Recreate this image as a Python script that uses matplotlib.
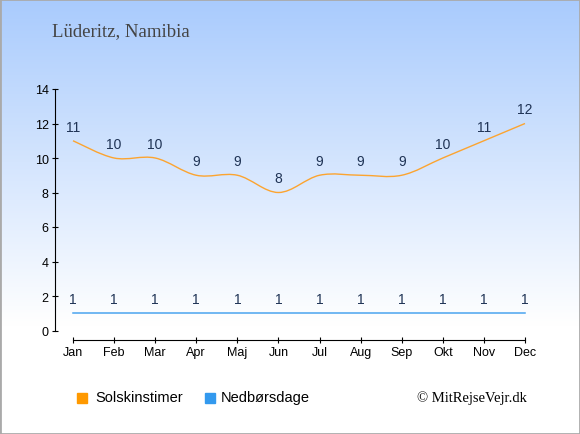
import numpy as np
import matplotlib.pyplot as plt
from matplotlib.path import Path
from matplotlib.patches import PathPatch, Rectangle
from matplotlib.colors import LinearSegmentedColormap

plt.rcParams['font.family'] = ['Liberation Sans', 'DejaVu Sans']

months = ['Jan', 'Feb', 'Mar', 'Apr', 'Maj', 'Jun', 'Jul', 'Aug', 'Sep', 'Okt', 'Nov', 'Dec']
sun_hours = [11, 10, 10, 9, 9, 8, 9, 9, 9, 10, 11, 12]
rain_days = [1, 1, 1, 1, 1, 1, 1, 1, 1, 1, 1, 1]

sun_color = '#fca430'
rain_color = '#4aa3ef'
label_color = '#1f3355'


def smooth_path(xs, ys, t=0.17):
    # bezier segments through the points (catmull-rom style)
    verts = [(xs[0], ys[0])]
    codes = [Path.MOVETO]
    n = len(xs)
    for i in range(n - 1):
        x0, y0 = xs[max(i - 1, 0)], ys[max(i - 1, 0)]
        x1, y1 = xs[i], ys[i]
        x2, y2 = xs[i + 1], ys[i + 1]
        x3, y3 = xs[min(i + 2, n - 1)], ys[min(i + 2, n - 1)]
        c1 = (x1 + (x2 - x0) * t, y1 + (y2 - y0) * t)
        c2 = (x2 - (x3 - x1) * t, y2 - (y3 - y1) * t)
        verts += [c1, c2, (x2, y2)]
        codes += [Path.CURVE4] * 3
    return Path(verts, codes)


fig = plt.figure(figsize=(5.8, 4.35), dpi=100)

# background gradient
bg = fig.add_axes([0, 0, 1, 1], zorder=-1)
grad = np.linspace(0, 1, 256).reshape(-1, 1)
cmap = LinearSegmentedColormap.from_list(
    'bg', [(0, '#ffffff'), (0.25, '#ffffff'), (1, '#a9cbfd')])
bg.imshow(grad, aspect='auto', cmap=cmap, origin='lower', extent=[0, 1, 0, 1])
bg.add_patch(Rectangle((0, 0), 1, 1, fill=False, edgecolor='#aaaaaa', lw=2,
                       transform=bg.transAxes))
bg.set_axis_off()

ax = fig.add_axes([55 / 580, (435 - 341) / 435, 490 / 580, 251 / 435])
ax.patch.set_alpha(0)
x = np.arange(len(months))
px = 41.09
ax.set_xlim(-18 / px, 11 + 20 / px)
ax.set_ylim(-9.5 / 17.25, 14)

ax.add_patch(PathPatch(smooth_path(x, sun_hours), fill=False, edgecolor=sun_color, lw=1))
ax.plot(x, rain_days, color=rain_color, lw=1.1)

for xi, v in zip(x, sun_hours):
    ax.text(xi, v + 0.82, str(v), ha='center', va='center', fontsize=10, color=label_color)
for xi, v in zip(x, rain_days):
    ax.text(xi, v + 0.82, str(v), ha='center', va='center', fontsize=10, color=label_color)

ax.spines['top'].set_visible(False)
ax.spines['right'].set_visible(False)
ax.spines['left'].set_bounds(0, 14)
ax.spines['bottom'].set_bounds(0, 11)
ax.set_yticks(range(0, 15, 2))
ax.set_xticks(x)
ax.set_xticklabels(months)
ax.tick_params(axis='both', labelsize=9, length=5, direction='inout', pad=2)

fig.text(52 / 580, 1 - 32 / 435, 'Lüderitz, Namibia', family='Liberation Serif',
         fontsize=13.5, color='#444444', va='center')

# legend
fig.patches.append(Rectangle((77 / 580, 1 - 404 / 435), 10 / 580, 10 / 435,
                             color='#ff9900', transform=fig.transFigure, figure=fig))
fig.text(95 / 580, 1 - 398 / 435, 'Solskinstimer', fontsize=10.5, va='center')
fig.patches.append(Rectangle((205 / 580, 1 - 404 / 435), 10 / 580, 10 / 435,
                             color='#3399ee', transform=fig.transFigure, figure=fig))
fig.text(221 / 580, 1 - 398 / 435, 'Nedbørsdage', fontsize=10.5, va='center')
fig.text(527 / 580, 1 - 398 / 435, '© MitRejseVejr.dk', family='Liberation Serif',
         fontsize=10.5, ha='right', va='center')

fig.savefig('out.png', dpi=100)
